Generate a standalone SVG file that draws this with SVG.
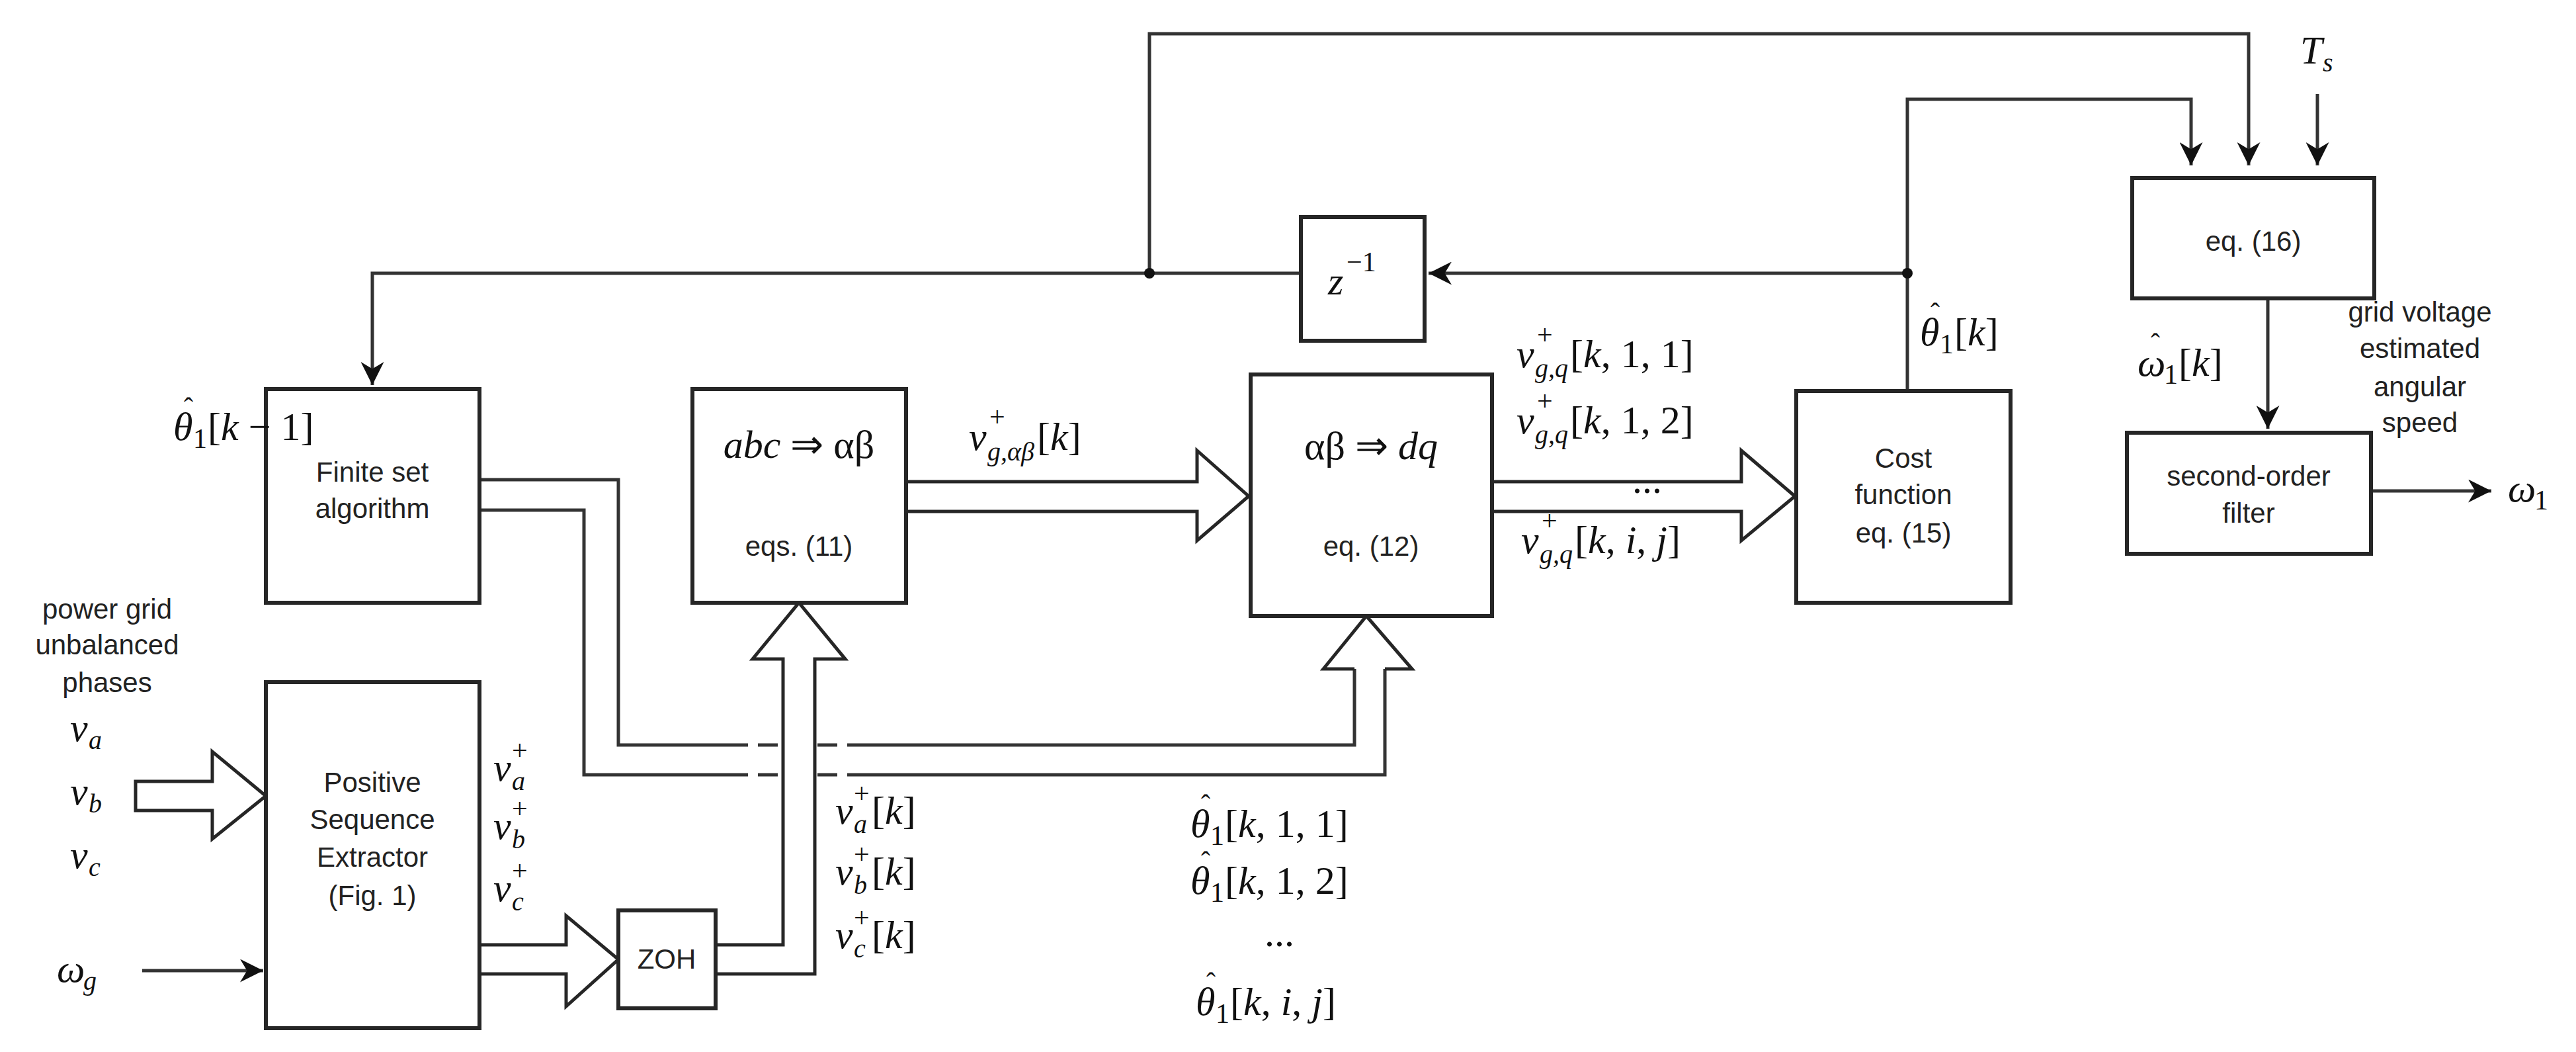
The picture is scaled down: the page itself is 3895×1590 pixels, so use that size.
<svg xmlns="http://www.w3.org/2000/svg" width="3895" height="1590" viewBox="0 0 3895 1590">
<defs>
<style>
.b{fill:#fff;stroke:#262626;stroke-width:6}
.l{fill:none;stroke:#333;stroke-width:5}
.h{fill:#fff;stroke:#262626;stroke-width:5;stroke-linejoin:miter}
.t{font-family:"Liberation Sans",Arial,sans-serif;font-size:42px;fill:#222;text-anchor:middle}
.m{font-family:"Liberation Serif","Times New Roman",serif;font-style:italic;font-size:60px;fill:#111}
.n{font-family:"Liberation Serif","Times New Roman",serif;font-size:60px;fill:#111}
.s{font-family:"Liberation Serif","Times New Roman",serif;font-style:italic;font-size:40px;fill:#111}
.u{font-family:"Liberation Serif","Times New Roman",serif;font-size:42px;fill:#111}
.i{font-style:italic}
</style>
<marker id="ar" viewBox="0 0 10 10" refX="10" refY="5" markerWidth="7" markerHeight="7" orient="auto">
<path d="M0,0 L10,5 L0,10 L3,5 z" fill="#111"/>
</marker>
</defs>
<rect width="3895" height="1590" fill="#fff"/>
<g id="connectors">
<polyline class="l" points="1738,413 1738,51 3400,51 3400,250" marker-end="url(#ar)"/>
<polyline class="l" points="2884,591 2884,150 3313,150 3313,250" marker-end="url(#ar)"/>
<line class="l" x1="3504" y1="142" x2="3504" y2="250" marker-end="url(#ar)"/>
<line class="l" x1="2884" y1="413" x2="2160" y2="413" marker-end="url(#ar)"/>
<polyline class="l" points="1967,413 563,413 563,582" marker-end="url(#ar)"/>
<circle cx="1738" cy="413" r="8" fill="#111"/>
<circle cx="2884" cy="413" r="8" fill="#111"/>
<line class="l" x1="3429" y1="451" x2="3429" y2="648" marker-end="url(#ar)"/>
<line class="l" x1="3585" y1="742" x2="3767" y2="742" marker-end="url(#ar)"/>
<line class="l" x1="215" y1="1467" x2="398" y2="1467" marker-end="url(#ar)"/>
<polygon class="h" points="205,1181 321,1181 321,1136 402,1203 321,1268 321,1225 205,1225"/>
<polygon class="h" points="1370,728 1810,728 1810,681 1888,750 1810,817 1810,773 1370,773"/>
<polygon class="h" points="2256,728 2633,728 2633,681 2714,750 2633,817 2633,773 2256,773"/>
<polyline class="h" points="725,1428 856,1428 856,1384 935,1450 856,1521 856,1472 725,1472"/>
<polyline class="l" points="725,725 935,725 935,1126 1101,1126"/>
<polyline class="l" points="725,771 883,771 883,1171 1101,1171"/>
<line class="l" x1="1101" y1="1126" x2="1281" y2="1126" stroke-dasharray="30,15"/>
<line class="l" x1="1101" y1="1171" x2="1281" y2="1171" stroke-dasharray="30,15"/>
<polyline class="l" points="1281,1126 2048,1126 2048,1011"/>
<polyline class="l" points="1281,1171 2094,1171 2094,1011"/>
<polyline class="h" points="2048,1011 2001,1011 2066,931 2135,1011 2094,1011"/>
<polyline class="h" points="1082,1428 1184,1428 1184,996 1138,996 1208,911 1278,996 1232,996 1232,1472 1082,1472"/>
</g>
<g id="finite"><rect class="b" x="402" y="588" width="323" height="323"/><text class="t" x="563" y="728">Finite set</text><text class="t" x="563" y="783">algorithm</text></g>
<g id="abc"><rect class="b" x="1047" y="588" width="323" height="323"/><text class="m" x="1208" y="692" text-anchor="middle">abc <tspan font-style="normal">⇒ αβ</tspan></text><text class="t" x="1208" y="840">eqs. (11)</text></g>
<g id="dq"><rect class="b" x="1891" y="566" width="365" height="365"/><text class="m" x="2073" y="694" text-anchor="middle"><tspan font-style="normal">αβ ⇒ </tspan>dq</text><text class="t" x="2073" y="840">eq. (12)</text></g>
<g id="cost"><rect class="b" x="2716" y="591" width="324" height="320"/><text class="t" x="2878" y="707">Cost</text><text class="t" x="2878" y="762">function</text><text class="t" x="2878" y="820">eq. (15)</text></g>
<g id="z"><rect class="b" x="1967" y="328" width="187" height="187"/><text class="m" x="2008" y="445">z</text><text class="u" x="2036" y="410">−1</text></g>
<g id="eq16"><rect class="b" x="3224" y="269" width="366" height="182"/><text class="t" x="3407" y="379">eq. (16)</text></g>
<g id="filter"><rect class="b" x="3216" y="654" width="369" height="183"/><text class="t" x="3400" y="734">second-order</text><text class="t" x="3400" y="790">filter</text></g>
<g id="pse"><rect class="b" x="402" y="1031" width="323" height="523"/><text class="t" x="563" y="1197">Positive</text><text class="t" x="563" y="1253">Sequence</text><text class="t" x="563" y="1310">Extractor</text><text class="t" x="563" y="1368">(Fig. 1)</text></g>
<g id="zoh"><rect class="b" x="935" y="1376" width="147" height="148"/><text class="t" x="1008" y="1464">ZOH</text></g>
<g id="labels">
<text class="t" x="162" y="935">power grid</text><text class="t" x="162" y="989">unbalanced</text><text class="t" x="162" y="1046">phases</text>
<text class="t" x="3659" y="486">grid voltage</text><text class="t" x="3659" y="541">estimated</text><text class="t" x="3659" y="599">angular</text><text class="t" x="3659" y="653">speed</text>

<text class="m" x="106" y="1120">v</text><text class="s" x="134" y="1132">a</text>
<text class="m" x="106" y="1216">v</text><text class="s" x="134" y="1228">b</text>
<text class="m" x="106" y="1312">v</text><text class="s" x="134" y="1324">c</text>
<text class="m" x="86" y="1484">ω</text><text class="s" x="126" y="1496">g</text>

<text class="m" x="746" y="1180">v</text><text class="s" x="774" y="1194">a</text><text class="u" x="774" y="1148">+</text>
<text class="m" x="746" y="1268">v</text><text class="s" x="774" y="1282">b</text><text class="u" x="774" y="1236">+</text>
<text class="m" x="746" y="1362">v</text><text class="s" x="774" y="1376">c</text><text class="u" x="774" y="1330">+</text>

<text class="m" x="1263" y="1245">v</text><text class="s" x="1291" y="1259">a</text><text class="u" x="1291" y="1213">+</text><text class="n" x="1318" y="1245">[<tspan class="i">k</tspan>]</text>
<text class="m" x="1263" y="1337">v</text><text class="s" x="1291" y="1351">b</text><text class="u" x="1291" y="1305">+</text><text class="n" x="1318" y="1337">[<tspan class="i">k</tspan>]</text>
<text class="m" x="1263" y="1433">v</text><text class="s" x="1291" y="1447">c</text><text class="u" x="1291" y="1401">+</text><text class="n" x="1318" y="1433">[<tspan class="i">k</tspan>]</text>

<text class="m" x="1800" y="1265">θ</text><text class="u" x="1816" y="1230">ˆ</text><text class="u" x="1830" y="1277">1</text><text class="n" x="1852" y="1265">[<tspan class="i">k</tspan>, 1, 1]</text>
<text class="m" x="1800" y="1351">θ</text><text class="u" x="1816" y="1316">ˆ</text><text class="u" x="1830" y="1363">1</text><text class="n" x="1852" y="1351">[<tspan class="i">k</tspan>, 1, 2]</text>
<text class="n" x="1912" y="1430">...</text>
<text class="m" x="1808" y="1534">θ</text><text class="u" x="1824" y="1499">ˆ</text><text class="u" x="1838" y="1546">1</text><text class="n" x="1860" y="1534">[<tspan class="i">k</tspan>, <tspan class="i">i</tspan>, <tspan class="i">j</tspan>]</text>

<text class="m" x="262" y="665">θ</text><text class="u" x="278" y="630">ˆ</text><text class="u" x="292" y="677">1</text><text class="n" x="314" y="665">[<tspan class="i">k</tspan> − 1]</text>

<text class="m" x="1465" y="680">v</text><text class="s" x="1493" y="696">g,αβ</text><text class="u" x="1496" y="644">+</text><text class="n" x="1568" y="680">[<tspan class="i">k</tspan>]</text>

<text class="m" x="2293" y="555">v</text><text class="s" x="2321" y="570">g,q</text><text class="u" x="2324" y="520">+</text><text class="n" x="2374" y="555">[<tspan class="i">k</tspan>, 1, 1]</text>
<text class="m" x="2293" y="655">v</text><text class="s" x="2321" y="670">g,q</text><text class="u" x="2324" y="620">+</text><text class="n" x="2374" y="655">[<tspan class="i">k</tspan>, 1, 2]</text>
<text class="n" x="2468" y="745">...</text>
<text class="m" x="2300" y="836">v</text><text class="s" x="2328" y="851">g,q</text><text class="u" x="2331" y="801">+</text><text class="n" x="2381" y="836">[<tspan class="i">k</tspan>, <tspan class="i">i</tspan>, <tspan class="i">j</tspan>]</text>

<text class="m" x="2903" y="522">θ</text><text class="u" x="2919" y="487">ˆ</text><text class="u" x="2933" y="534">1</text><text class="n" x="2955" y="522">[<tspan class="i">k</tspan>]</text>
<text class="m" x="3232" y="568">ω</text><text class="u" x="3252" y="533">ˆ</text><text class="u" x="3272" y="580">1</text><text class="n" x="3294" y="568">[<tspan class="i">k</tspan>]</text>
<text class="m" x="3478" y="96">T</text><text class="s" x="3512" y="108">s</text>
<text class="m" x="3792" y="758">ω</text><text class="u" x="3832" y="770">1</text>
</g>
</svg>
